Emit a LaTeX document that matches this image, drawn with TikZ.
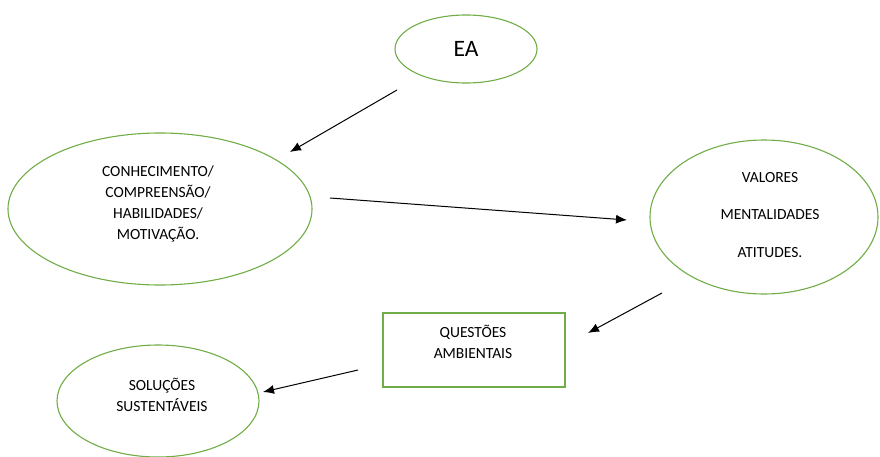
\documentclass[tikz,border=0pt]{standalone}
\usepackage{fontspec}
\setmainfont{Carlito}
\usetikzlibrary{shapes.geometric,arrows.meta}
\definecolor{egreen}{RGB}{112,173,71}
\tikzset{
  oval/.style={ellipse,draw=egreen,line width=1.1pt,inner sep=0pt,align=center,text=black},
  sqbox/.style={rectangle,draw=egreen,line width=1.1pt,inner sep=0pt,align=center,text=black},
  arr/.style={line width=1pt,-{Latex[length=11pt,width=9pt]}},
  lbl/.style={font=\fontsize{15.5}{21}\selectfont,text=black}
}
\begin{document}
\begin{tikzpicture}[x=1pt,y=-1pt]
\useasboundingbox (0,0) rectangle (880,457);
\node[oval,minimum width=142pt,minimum height=68pt,font=\fontsize{23.5}{24}\selectfont] (ea) at (466,49) {EA};
\node[oval,minimum width=304pt,minimum height=152pt] (con) at (160,209) {};
\node[lbl,align=center] (contxt) at (158,204) {CONHECIMENTO/\\COMPREENSÃO/\\HABILIDADES/\\MOTIVAÇÃO.};
\node[oval,minimum width=228pt,minimum height=154pt] (val) at (764,217) {};
\node[align=center,text=black,font=\fontsize{15.5}{37.5}\selectfont] (valtxt) at (770,215) {VALORES\\MENTALIDADES\\ATITUDES.};
\node[sqbox,minimum width=182pt,minimum height=74pt] (qa) at (474,350) {};
\node[lbl,align=center] (qatxt) at (473,342) {QUESTÕES\\AMBIENTAIS};
\node[oval,minimum width=202pt,minimum height=112pt] (sol) at (158,401) {};
\node[lbl,align=center] (soltxt) at (162,395) {SOLUÇÕES\\SUSTENTÁVEIS};
\coordinate (a1s) at (397,90);
\coordinate (a1e) at (290,152);
\coordinate (a2s) at (330,198);
\coordinate (a2e) at (627,220);
\coordinate (a3s) at (662,293);
\coordinate (a3e) at (588,333);
\coordinate (a4s) at (358,370);
\coordinate (a4e) at (263,392);
\draw[arr] (a1s) -- (a1e);
\draw[arr] (a2s) -- (a2e);
\draw[arr] (a3s) -- (a3e);
\draw[arr] (a4s) -- (a4e);
\end{tikzpicture}
\end{document}
